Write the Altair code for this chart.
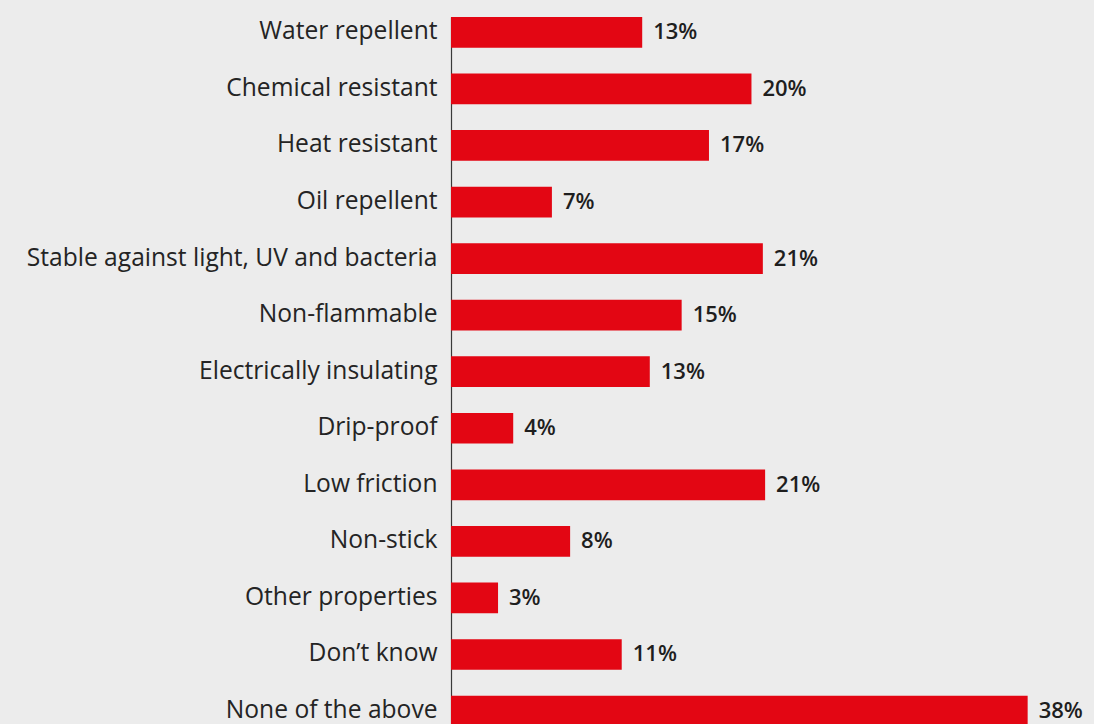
import altair as alt
import pandas as pd

categories = [
    "Water repellent", "Chemical resistant", "Heat resistant", "Oil repellent",
    "Stable against light, UV and bacteria", "Non-flammable",
    "Electrically insulating", "Drip-proof", "Low friction", "Non-stick",
    "Other properties", "Don’t know", "None of the above",
]
values = [12.6, 19.8, 17.0, 6.65, 20.55, 15.2, 13.1, 4.1, 20.7, 7.85, 3.1, 11.25, 38.0]
labels = ["13%", "20%", "17%", "7%", "21%", "15%", "13%", "4%", "21%", "8%", "3%", "11%", "38%"]

df = pd.DataFrame({"cat": categories, "val": values, "lab": labels})

FONT = "Open Sans"

y = alt.Y(
    "cat:N",
    sort=categories,
    title=None,
    scale=alt.Scale(range=[17, 726.4], paddingInner=0.457, paddingOuter=0),
    axis=alt.Axis(
        domain=True, domainColor="#3a3a3a", domainWidth=1.2, ticks=False,
        labelFont=FONT, labelFontSize=24.6, labelFontWeight=400,
        labelColor="#242424", labelPadding=14, labelLimit=500,
    ),
)
x = alt.X("val:Q", title=None, scale=alt.Scale(domain=[0, 40]), axis=None)

bars = alt.Chart(df).mark_bar(color="#e30613", clip=True).encode(x=x, y=y)
text = alt.Chart(df).mark_text(
    align="left", baseline="middle", dx=11, font=FONT, fontSize=22,
    fontWeight=600, color="#1e1e1e",
).encode(x=x, y=y, text="lab:N")

chart = (
    (bars + text)
    .properties(
        width=607, height=724,
        padding={"left": 451, "top": 0, "right": 36, "bottom": 0},
        autosize=alt.AutoSizeParams(type="none"),
        background="#ececec",
    )
    .configure_view(stroke=None)
)

chart.save("out.html", embed_options={"renderer": "svg", "actions": False})
